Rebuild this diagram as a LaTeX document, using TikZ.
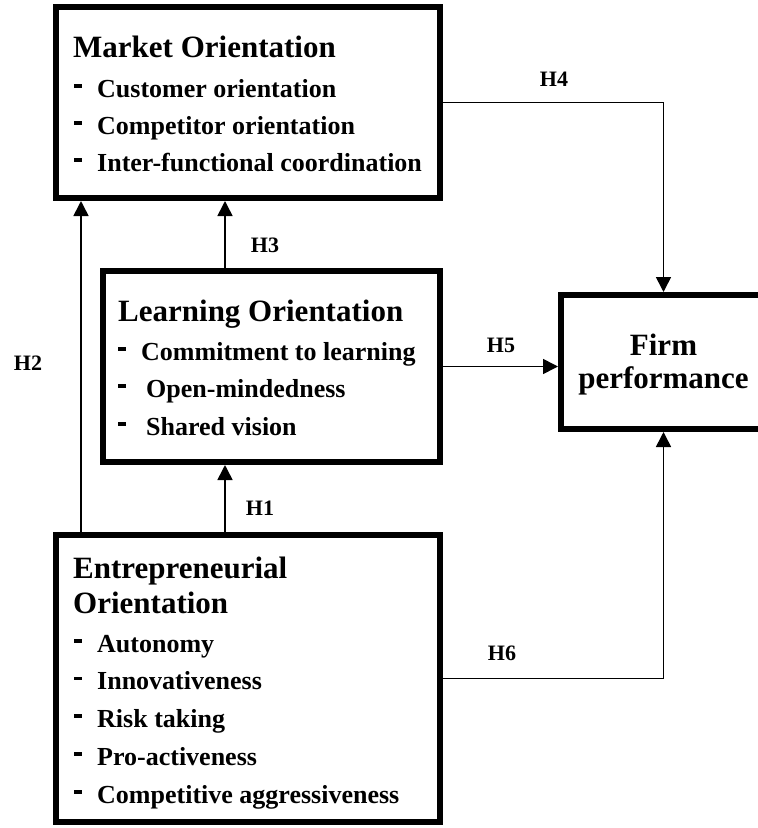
\documentclass[tikz,border=0pt]{standalone}
\usepackage{fontspec}
\setmainfont{Liberation Serif}
\usetikzlibrary{positioning,arrows.meta}
\newcommand{\trait}[2][24pt]{\makebox[#1][l]{\hspace{1pt}\rule[9.5pt]{7.5pt}{3.6pt}}#2}
\tikzset{
  construct/.style={draw=black,line width=6pt,inner sep=0pt},
  heading/.style={anchor=base west,inner sep=0pt,font=\fontsize{31}{33}\selectfont\bfseries},
  facet/.style={anchor=base west,inner sep=0pt,font=\fontsize{26}{30}\selectfont\bfseries},
  link/.style={draw=black,line width=1.6pt,-{Triangle[width=15pt,length=15pt]}},
  hyp/.style={inner sep=0pt,font=\fontsize{22}{26}\selectfont\bfseries}
}

\begin{document}
\begin{tikzpicture}[x=1pt,y=-1pt]
      \useasboundingbox (0,0) rectangle (758,828);
      \clip (0,0) rectangle (758,828);
      \node[construct,minimum width=384pt,minimum height=191pt] (mo) at (248,102.5) {};
      \node[construct,minimum width=337pt,minimum height=191pt] (lo) at (271.5,366.5) {};
      \node[construct,minimum width=384pt,minimum height=287pt] (eo) at (248,678.5) {};
      \node[construct,minimum width=205pt,minimum height=134pt] (fp) at (663.5,362) {};
      \node[align=center,inner sep=0pt,font=\fontsize{31}{33}\selectfont\bfseries]
        (fpText) at ([yshift=-3pt]fp.center) {Firm\\performance};

      \node[heading] (moTitle) at (73,57) {Market Orientation};
      \foreach \txt [count=\i from 0] in {Customer orientation,Competitor orientation,Inter-functional coordination}
        \node[facet] (mo\i) at (73,97+37*\i) {\trait{\txt}};

      \node[heading] (loTitle) at (118,321) {Learning Orientation};
      \foreach \txt/\gap [count=\i from 0] in {Commitment to learning/24pt,Open-mindedness/29pt,Shared vision/29pt}
        \node[facet] (lo\i) at (117,360+37.5*\i) {\trait[\gap]{\txt}};

      \node[heading] (eoTitle) at (73,578) {Entrepreneurial};
      \node[heading] (eoTitleB) at (73,613) {Orientation};
      \foreach \txt [count=\i from 0] in {Autonomy,Innovativeness,Risk taking,Pro-activeness,Competitive aggressiveness}
        \node[facet] (eo\i) at (73,652+37.75*\i) {\trait{\txt}};

      \draw[link] ([xshift=28pt]eo.north west) -- ([xshift=28pt]mo.south west);
      \draw[link] ([xshift=125pt]lo.north west) -- ([xshift=125pt]lo.north west |- mo.south);
      \draw[link] ([xshift=125pt]lo.south west |- eo.north) -- ([xshift=125pt]lo.south west);
      \draw[link] (mo.east) -| (fp.north);
      \draw[link] (lo.east) -- (lo.east -| fp.west);
      \draw[link] (eo.east) -| (fp.south);

      \node[hyp] (h1) at (260,508) {H1};
      \node[hyp] (h2) at (28,363) {H2};
      \node[hyp] (h3) at (265,245) {H3};
      \node[hyp] (h4) at (554,79) {H4};
      \node[hyp] (h5) at (501,345) {H5};
      \node[hyp] (h6) at (502,653) {H6};
    \end{tikzpicture}
\end{document}
